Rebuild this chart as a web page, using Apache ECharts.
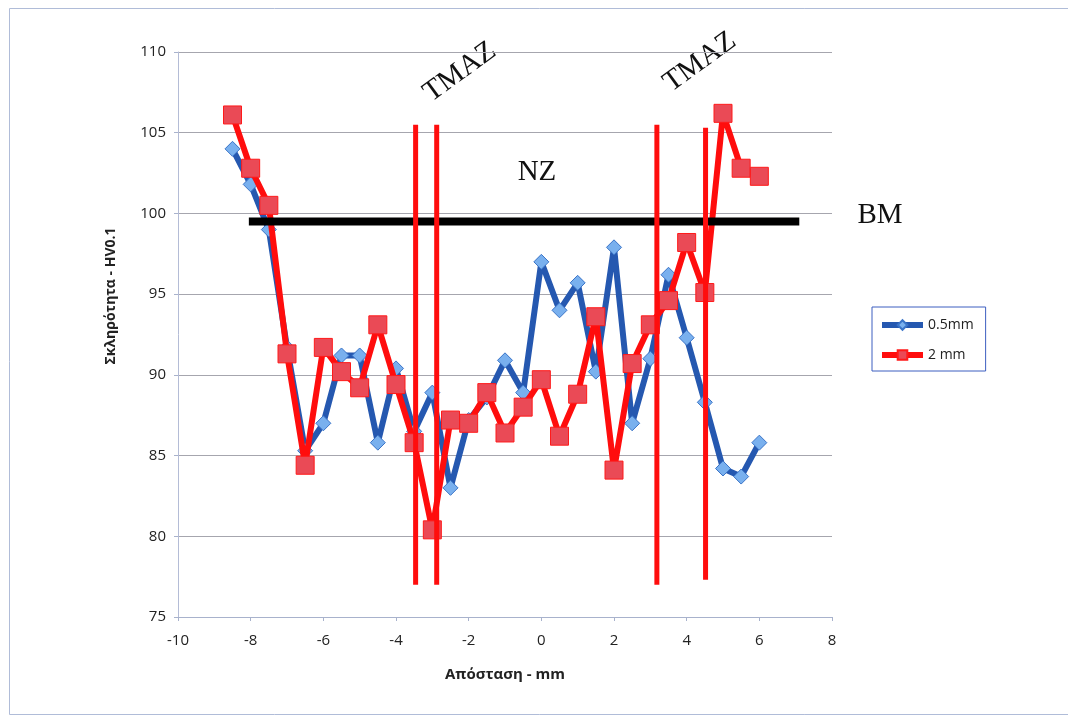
<!DOCTYPE html>
<html lang="el">
<head>
    <meta charset="UTF-8">
    <title>Σκληρότητα</title>
    <script src="https://cdn.jsdelivr.net/npm/echarts@6/dist/echarts.min.js"></script>
    <style>
        html, body { margin: 0; padding: 0; background: #fff; }
        #chart { width: 1068px; height: 718px; }
    </style>
</head>
<body>
<div id="chart"></div>
<script type="text/javascript">
    // θέσεις μέτρησης (mm)
    var distances = [-8.5, -8, -7.5, -7, -6.5, -6, -5.5, -5, -4.5, -4, -3.5, -3, -2.5, -2, -1.5,
        -1, -0.5, 0, 0.5, 1, 1.5, 2, 2.5, 3, 3.5, 4, 4.5, 5, 5.5, 6];
    var hv05 = [104.0, 101.8, 99.0, 91.7, 85.3, 87.0, 91.2, 91.2, 85.8, 90.4, 86.5, 88.9, 83.0, 87.2, 88.6,
        90.9, 88.9, 97.0, 94.0, 95.7, 90.2, 97.9, 87.0, 91.0, 96.2, 92.3, 88.3, 84.2, 83.7, 85.8];
    var hv2 = [106.1, 102.8, 100.5, 91.3, 84.4, 91.7, 90.2, 89.2, 93.1, 89.4, 85.8, 80.4, 87.2, 87.0, 88.9,
        86.4, 88.0, 89.7, 86.2, 88.8, 93.6, 84.1, 90.7, 93.1, 94.6, 98.2, 95.1, 106.2, 102.8, 102.3];
    // όρια ζωνών TMAZ (κατακόρυφες γραμμές) και γραμμή BM
    var zoneX = [-3.46, -2.88, 3.18, 4.52];
    var zoneTop = [105.5, 105.5, 105.5, 105.3];
    var zoneBottom = [77.0, 77.0, 77.0, 77.3];
    var bmLevel = 99.5;
    var bmFrom = -8.05, bmTo = 7.1;

    function pairs(xs, ys) {
        return xs.map(function (x, i) { return [x, ys[i]]; });
    }

    var series = [
        {
            name: '0.5mm',
            type: 'line',
            data: pairs(distances, hv05),
            symbol: 'diamond',
            symbolSize: 15,
            lineStyle: { color: '#2558b0', width: 6 },
            itemStyle: { color: '#79b0ee', borderColor: '#3a74c8', borderWidth: 1 },
            z: 3
        },
        {
            name: '2 mm',
            type: 'line',
            data: pairs(distances, hv2),
            symbol: 'rect',
            symbolSize: 18,
            lineStyle: { color: '#ff0d0d', width: 6 },
            itemStyle: { color: '#ea4a56', borderColor: '#ff1a1a', borderWidth: 1 },
            z: 4
        },
        {
            name: 'BM',
            type: 'line',
            data: [[bmFrom, bmLevel], [bmTo, bmLevel]],
            symbol: 'none',
            lineStyle: { color: '#000', width: 8 },
            z: 5
        }
    ];
    zoneX.forEach(function (x, i) {
        series.push({
            name: 'zone' + i,
            type: 'line',
            data: [[x, zoneTop[i]], [x, zoneBottom[i]]],
            symbol: 'none',
            lineStyle: { color: '#ff0d0d', width: 5 },
            z: 6
        });
    });

    var chart = echarts.init(document.getElementById('chart'));
    chart.setOption({
        animation: false,
        backgroundColor: '#fff',
        grid: { left: 178, top: 52, width: 654, height: 565 },
        legend: {
            data: ['0.5mm', '2 mm'],
            orient: 'vertical',
            left: 872,
            top: 307,
            padding: [11, 12, 9, 7],
            itemGap: 16,
            itemWidth: 41,
            itemHeight: 12,
            borderColor: '#3d5fc0',
            borderWidth: 1,
            lineStyle: { width: 6 },
            textStyle: { fontFamily: 'Open Sans', fontSize: 14, color: '#222' }
        },
        xAxis: {
            type: 'value',
            min: -10,
            max: 8,
            interval: 2,
            name: 'Απόσταση - mm',
            nameLocation: 'middle',
            nameGap: 50,
            nameTextStyle: { fontFamily: 'Open Sans', fontSize: 15, fontWeight: 'bold', color: '#222' },
            axisLine: { onZero: false, lineStyle: { color: '#a8b2cc', width: 1 } },
            axisTick: { show: true, length: 4, lineStyle: { color: '#a8b2cc' } },
            axisLabel: { fontFamily: 'Open Sans', fontSize: 15, color: '#222', margin: 16 },
            splitLine: { show: false }
        },
        yAxis: {
            type: 'value',
            min: 75,
            max: 110,
            interval: 5,
            axisLine: { show: true, onZero: false, lineStyle: { color: '#b4bcd6', width: 1 } },
            axisTick: { show: true, length: 4, lineStyle: { color: '#a8b2cc' } },
            axisLabel: { fontFamily: 'Open Sans', fontSize: 15, color: '#222', margin: 12 },
            splitLine: { lineStyle: { color: '#a6a6ae', width: 1 } }
        },
        graphic: [
            {
                type: 'rect',
                shape: { x: 9.5, y: 8.5, width: 1070, height: 706 },
                style: { fill: 'none', stroke: '#b0bcd8', lineWidth: 1 },
                z: -1
            },
            {
                type: 'text',
                x: 111, y: 296,
                rotation: Math.PI / 2,
                style: {
                    text: 'Σκληρότητα - HV0.1',
                    font: 'bold 14px "Open Sans"',
                    fill: '#222',
                    align: 'center',
                    verticalAlign: 'middle'
                }
            },
            {
                type: 'text',
                x: 460, y: 72,
                rotation: 0.63,
                style: { text: 'TMAZ', font: '29px "Liberation Serif"', fill: '#111', align: 'center', verticalAlign: 'middle' }
            },
            {
                type: 'text',
                x: 700, y: 62,
                rotation: 0.63,
                style: { text: 'TMAZ', font: '29px "Liberation Serif"', fill: '#111', align: 'center', verticalAlign: 'middle' }
            },
            {
                type: 'text',
                x: 537, y: 172,
                style: { text: 'NZ', font: '29px "Liberation Serif"', fill: '#111', align: 'center', verticalAlign: 'middle' }
            },
            {
                type: 'text',
                x: 880, y: 215,
                style: { text: 'BM', font: '29px "Liberation Serif"', fill: '#111', align: 'center', verticalAlign: 'middle' }
            }
        ],
        series: series
    });
</script>
</body>
</html>
